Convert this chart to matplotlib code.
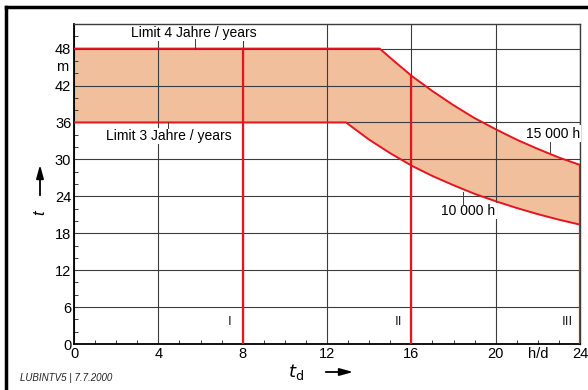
import numpy as np
import matplotlib.pyplot as plt
from matplotlib.ticker import MultipleLocator

plt.rcParams['font.family'] = ['Liberation Sans', 'DejaVu Sans']

# operating hours per day (x) and upper/lower limit curves
x_upper = [0, 14.5, 15, 16, 17, 18, 19, 20, 21, 22, 23, 24]
y_upper = [48, 48, 46.5, 43.6, 41.1, 38.8, 36.7, 34.9, 33.2, 31.7, 30.3, 29.1]
x_lower = [0, 12.9, 14, 15, 16, 17, 18, 19, 20, 21, 22, 23, 24]
y_lower = [36, 36, 33.2, 31.0, 29.0, 27.3, 25.8, 24.4, 23.2, 22.1, 21.1, 20.2, 19.4]

x_ticks = [0, 4, 8, 12, 16, 20, 24]
y_ticks = [0, 6, 12, 18, 24, 30, 36, 42, 48]
class_lines = [8, 16, 24]
class_labels = ['I', 'II', 'III']

RED = '#e4151f'
FILL = '#f2bf9d'
GRID = '#3c3c3c'
BOX = dict(facecolor='white', edgecolor='none', pad=1.0)

fig = plt.figure(figsize=(5.88, 3.9), dpi=100)
ax = fig.add_axes([0.1259, 0.1179, 0.8605, 0.8206])

# shaded band between the two limits
xs = np.union1d(x_upper, x_lower)
up = np.interp(xs, x_upper, y_upper)
lo = np.interp(xs, x_lower, y_lower)
ax.fill_between(xs, lo, up, color=FILL, lw=0, zorder=1)

ax.set_xlim(0, 24)
ax.set_ylim(0, 52)
ax.set_xticks(x_ticks)
ax.set_yticks(y_ticks)
ax.xaxis.set_minor_locator(MultipleLocator(1))
ax.yaxis.set_minor_locator(MultipleLocator(2))
ax.grid(True, which='major', color=GRID, lw=0.8, zorder=2)
ax.tick_params(which='major', length=0, labelsize=10.5, pad=2, colors='black')
ax.tick_params(which='minor', direction='in', length=3, width=0.7, color=GRID,
               top=False, right=False)
for s in ['top', 'right']:
    ax.spines[s].set_color(GRID)
    ax.spines[s].set_linewidth(1.0)
for s in ['bottom', 'left']:
    ax.spines[s].set_color('black')
    ax.spines[s].set_linewidth(1.3)

ax.plot(x_upper, y_upper, color=RED, lw=1.4, zorder=3)
ax.plot(x_lower, y_lower, color=RED, lw=1.4, zorder=3)
for xv in class_lines:
    ax.plot([xv, xv], [0, np.interp(xv, x_upper, y_upper)], color=RED, lw=1.6, zorder=3)
for xv, lab in zip(class_lines, class_labels):
    ax.text(xv - 0.6, 3.6, lab, ha='center', va='center', fontsize=9.5, color='#222222')

# curve annotations (white boxes hide the grid behind them)
ax.plot([5.72, 5.72], [48, 49.6], color=GRID, lw=0.7, zorder=3)
ax.text(5.7, 50.6, 'Limit 4 Jahre / years', ha='center', va='center', fontsize=10,
        bbox=BOX, zorder=2.4)
ax.plot([4.45, 4.45], [35.1, 36], color=GRID, lw=0.7, zorder=3)
ax.text(4.5, 33.8, 'Limit 3 Jahre / years', ha='center', va='center', fontsize=10,
        bbox=BOX, zorder=2.4)
ax.plot([22.6, 22.6], [31.2, 33.2], color=GRID, lw=0.7, zorder=3)
ax.text(22.7, 34.2, '15 000 h', ha='center', va='center', fontsize=10,
        bbox=BOX, zorder=4, clip_on=False)
ax.plot([18.45, 18.45], [22.6, 24.7], color=GRID, lw=0.7, zorder=3)
ax.text(18.7, 21.6, '10 000 h', ha='center', va='center', fontsize=10,
        bbox=BOX, zorder=2.4)

ax.text(22, -0.45, 'h/d', ha='center', va='top', fontsize=10.5)
ax.text(-0.25, 45, 'm', ha='right', va='center', fontsize=10.5)

# axis labels with arrows
fig.text(40 / 588, 1 - 213 / 390, 't', style='italic', rotation=90, fontsize=12,
         ha='center', va='center')
ax.annotate('', xy=(40 / 588, 1 - 162 / 390), xytext=(40 / 588, 1 - 198 / 390),
            xycoords='figure fraction',
            arrowprops=dict(arrowstyle='-|>,head_length=0.8,head_width=0.22',
                            color='black', lw=1.3))
fig.text(296 / 588, 1 - 372 / 390, r'$t_{\mathrm{d}}$', fontsize=13,
         ha='center', va='center')
ax.annotate('', xy=(356 / 588, 1 - 372 / 390), xytext=(323 / 588, 1 - 372 / 390),
            xycoords='figure fraction',
            arrowprops=dict(arrowstyle='-|>,head_length=0.8,head_width=0.22',
                            color='black', lw=1.3))
fig.text(20 / 588, 1 - 378 / 390, 'LUBINTV5 | 7.7.2000', style='italic',
         fontsize=7, ha='left', va='center', color='#222222')

# page frame (left and top edges)
fig.add_artist(plt.Line2D([6 / 588, 6 / 588], [0, 1 - 7 / 390], color='black',
                          lw=2.5, transform=fig.transFigure))
fig.add_artist(plt.Line2D([6 / 588, 1], [1 - 7 / 390, 1 - 7 / 390], color='black',
                          lw=2.5, transform=fig.transFigure))

fig.savefig('out.png', dpi=100)
